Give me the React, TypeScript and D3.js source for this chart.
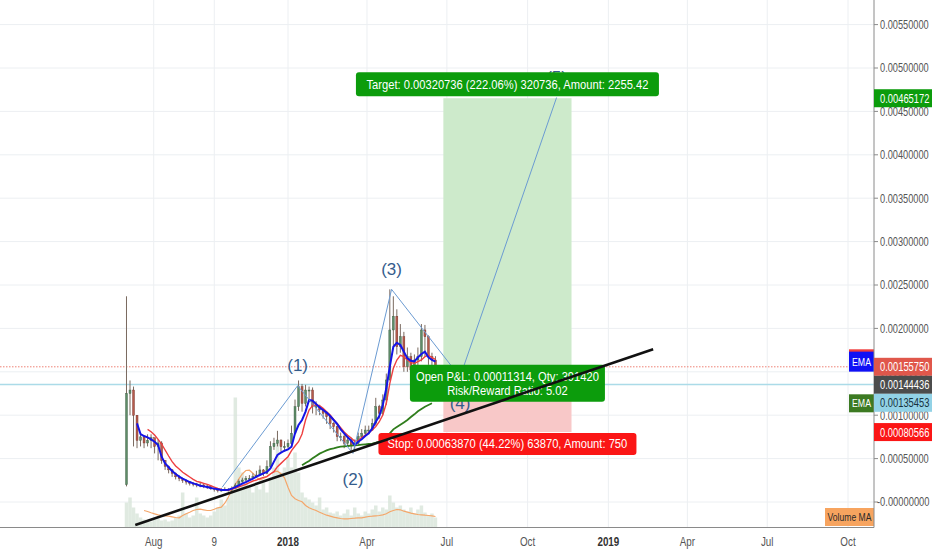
import React from "react";
import * as d3 from "d3";

const W = 932;
const H = 550;
const PLOT_RIGHT = 874;
const PLOT_BOTTOM = 527.5;

// candles: one bar every 4 days from 2017-07-01, prices in units of 1e-5
const BAR_START = "2017-07-01";
const BAR_STEP_DAYS = 4;
const UNIT = 1e-5;
const FIRST_OPEN = 20;

const CLOSE = [
  125, 129, 100, 71, 75, 68, 71, 74, 64, 68,
  48, 41, 37, 33, 29, 27, 25, 23, 21.5, 20.7,
  19.6, 19.6, 18.4, 17.6, 15.7, 14.6, 13.1, 13.8, 14.6, 13.8,
  15.7, 19.6, 23.4, 25.3, 27.3, 27.3, 29.2, 31.1, 36.9, 33,
  40.7, 63.7, 67.6, 71.4, 63.7, 63.7, 67.6, 79.1, 109.8, 132.8,
  113.7, 129, 129, 109.8, 109.8, 106, 102.2, 98.3, 90.6, 86.8,
  75.3, 75.3, 67.6, 71.4, 65.6, 67.6, 75.3, 79.1, 82.9, 82.9,
  90.6, 109.8, 102.2, 117.5, 140.6, 198.2, 214, 178.9, 190.4, 155.9,
  167.4, 152.1, 163.6, 167.4, 198.2, 190.4, 167.4, 163.6, 150,
];
const HIGH = [
  237, 140, 133, 100, 80, 76, 78, 78, 74, 72,
  70, 48, 42, 38, 34, 31, 28, 26, 24, 23,
  22, 22, 21, 20, 19, 17, 15, 16, 17, 16,
  18, 22, 26, 28, 30, 31, 33, 36, 42, 38,
  48, 70, 74, 82, 72, 70, 72, 88, 118, 140,
  136, 135, 133, 132, 116, 112, 108, 104, 100, 92,
  88, 80, 78, 76, 74, 72, 80, 84, 88, 88,
  96, 120, 112, 124, 148, 245, 237, 222, 205, 196,
  178, 172, 170, 178, 205, 204, 192, 172, 168,
];
const LOW = [
  18, 100, 64, 62, 64, 62, 64, 62, 56, 48,
  44, 37, 33, 29, 26, 24, 22, 20, 19, 18,
  17, 17, 16, 15, 14, 12, 11, 12, 13, 12,
  13, 15, 19, 22, 24, 25, 26, 28, 31, 30,
  32, 40, 60, 64, 58, 58, 62, 66, 78, 105,
  104, 110, 115, 102, 100, 100, 96, 90, 84, 80,
  70, 70, 62, 64, 60, 58, 66, 74, 76, 78,
  82, 88, 96, 100, 112, 140, 180, 170, 172, 150,
  150, 145, 150, 155, 162, 168, 158, 150, 144,
];
const VOLUME = [
  25, 30, 20, 14, 10, 8, 7, 6, 8, 9,
  7, 8, 6, 7, 10, 12, 35, 14, 10, 12,
  30, 14, 12, 10, 12, 16, 20, 28, 22, 30,
  40, 130, 60, 55, 45, 40, 35, 42, 38, 45,
  35, 50, 60, 85, 55, 60, 70, 60, 75, 55,
  35, 30, 28, 25, 22, 30, 18, 20, 15, 14,
  16, 12, 14, 18, 12, 20, 14, 12, 16, 14,
  18, 22, 16, 20, 18, 32, 25, 20, 22, 18,
  16, 20, 14, 18, 22, 15, 12, 14, 10,
];

// indicators on the same bar grid, starting at the given bar index
const BLUE_EMA_START = 3;
const BLUE_EMA = [
  90.6, 78.3, 76, 74.5, 72.2, 69.5, 65.6,
  52.2, 44.5, 40, 35.7, 32.3, 29.2, 26.9, 25, 23, 21.5,
  20.3, 18.8, 18, 17.2, 16.1, 15.4, 14.6, 13.8, 13.8, 14.2,
  15.4, 17.2, 19.2, 21.1, 23, 25, 26.9, 29.2, 31.1, 33,
  34.6, 38.8, 46.5, 54.1, 56.8, 59.1, 60.7, 63.7, 79.1, 88.7,
  94.5, 104.1, 117.5, 116.7, 112.9, 109, 106, 103, 99.1, 94.5,
  89.9, 83.7, 79.1, 74.5, 70.6, 65.6, 69.5, 72.2, 76, 79.1,
  84.8, 92.5, 99.1, 111.8, 131, 156, 178.9, 183.5, 180.9, 173.2,
  165.5, 162.8, 162, 166.6, 170.5, 173.2, 166.6, 163.6, 161.7,
];
const RED_EMA_START = 6;
const RED_EMA = [
  83.7, 81, 77.2, 72.2,
  66.8, 59.9, 53, 46.5, 41.5, 38, 34.2, 31.5, 28.8, 26.1,
  23.8, 22.7, 21.5, 20.3, 18.8, 17.2, 15.7, 14.6, 13.4, 13.4,
  14.6, 16.1, 17.6, 18.8, 20.3, 22.3, 24.2, 25.3, 26.9, 28.4,
  29.2, 32.3, 34.9, 40.7, 44.5, 48.4, 52.2, 59.1, 64.5, 69.5,
  78.3, 94.5, 106, 111, 111.8, 111, 107.9, 104.1, 100.2, 95.2,
  90.6, 85.6, 80.6, 76.8, 73.7, 69.9, 70.6, 74.5, 76.8, 79.9,
  82.9, 86.8, 92.5, 100.2, 113.7, 136.7, 154, 163.6, 169, 167.4,
  163.6, 160.5, 159.8, 161.7, 163.6, 167.4, 169, 166.3, 164.4,
];
const GREEN_EMA_START = 50;
const GREEN_EMA = [
  42.3, 45, 47.3, 50.3, 53, 55.7, 57.6, 59.5, 61, 61.8,
  63, 63.7, 64.1, 64.5, 64.9, 65.3, 65.6, 66, 66.4, 66.8,
  67.2, 68.3, 69.5, 71.4, 74.5, 79.1, 83.7, 86.4, 89, 91.7,
  94.5, 97.9, 101, 104.5, 107.1, 109.8, 111.8, 113.7,
];
const VOL_MA_START = 5;
const VOL_MA = [
  17, 16, 14.7, 13.7, 12.7,
  12, 11.7, 11.3, 10.7, 10, 9.7, 12, 13.7, 15.3, 17,
  18, 18.3, 17.7, 17, 17, 18.3, 19.7, 20.3, 24.3, 30.3,
  37.7, 43, 48.7, 53.7, 57, 57.3, 54.3, 50.3, 47.7, 49,
  51, 53.7, 55.7, 56.3, 53.7, 49.7, 40.3, 32, 28.7, 27,
  25.7, 22, 19.7, 18.3, 17, 15.3, 13.7, 12.3, 11.3, 10.3,
  9.7, 9, 8.7, 8.7, 9, 9.3, 9.7, 9.7, 10.3, 11,
  11.3, 11.7, 12, 12.7, 13.7, 15.7, 17, 18, 17.7, 16.3,
  15.3, 14.3, 13.7, 13, 12.7, 12.3, 12, 11.7, 11,
];

// axes
const Y_TICKS = [0, 0.0005, 0.001, 0.0015, 0.002, 0.0025, 0.003, 0.0035, 0.004, 0.0045, 0.005, 0.0055];
const Y_TICK_LABELS = [
  "-0.00000000", "0.00050000", "0.00100000", "0.00150000", "0.00200000", "0.00250000",
  "0.00300000", "0.00350000", "0.00400000", "0.00450000", "0.00500000", "0.00550000",
];
const X_TICK_DATES = [
  "2017-08-01", "2017-10-09", "2018-01-01", "2018-04-01", "2018-07-01",
  "2018-10-01", "2019-01-01", "2019-04-01", "2019-07-01", "2019-10-01",
];
const X_TICK_LABELS = ["Aug", "9", "2018", "Apr", "Jul", "Oct", "2019", "Apr", "Jul", "Oct"];
const X_TICK_BOLD = [false, false, true, false, false, false, true, false, false, false];

// drawings
const WAVE_DATES = ["2017-10-18", "2018-01-12", "2018-03-16", "2018-04-29", "2018-07-16", "2018-11-03"];
const WAVE_VALUES = [0.00017, 0.00134, 0.00056, 0.00245, 0.00144, 0.00466];
const WAVE_LABELS = ["", "(1)", "(2)", "(3)", "(4)", "(5)"];
const WAVE_LABEL_ABOVE = [true, true, false, true, false, true];

const TREND_DATES = ["2017-07-11", "2019-02-21"];
const TREND_VALUES = [-0.000265, 0.00176];

const POS_DATES = ["2018-06-27", "2018-11-20"];
const ENTRY = 0.00144436;
const TARGET = 0.00465172;
const STOP = 0.00080566;
const TARGET_TEXT = "Target: 0.00320736 (222.06%) 320736, Amount: 2255.42";
const PNL_TEXT = ["Open P&L: 0.00011314, Qty: 391420", "Risk/Reward Ratio: 5.02"];
const STOP_TEXT = "Stop: 0.00063870 (44.22%) 63870, Amount: 750";

const RED_LEVEL = 0.0015575;
const BLUE_LEVEL = 0.00135453;

const PRICE_LABELS = ["0.00465172", "0.00155750", "0.00144436", "0.00135453", "0.00080566"];
const PRICE_LABEL_VALUES = [0.00465172, 0.0015575, 0.00144436, 0.00135453, 0.00080566];
const PRICE_LABEL_BG = ["#0c9c0c", "#e0574b", "#4c4c4c", "#92d2e6", "#fb1616"];
const PRICE_LABEL_FG = ["#ffffff", "#ffffff", "#ffffff", "#17323d", "#ffffff"];

const FONT = "'Liberation Sans', Arial, sans-serif";

const day = (s: string) => new Date(s + "T00:00:00Z");

// text squeezed horizontally around its anchor, like the narrow chart font
const Narrow = ({ x, y, sx, anchor = "start", size = 12, fill = "#555", weight = "normal", children }: any) => (
  <text
    x={0}
    y={0}
    transform={`translate(${x},${y}) scale(${sx},1)`}
    textAnchor={anchor}
    dominantBaseline="central"
    fontSize={size}
    fontWeight={weight}
    fill={fill}
  >
    {children}
  </text>
);

export default function App() {
  const x = d3
    .scaleUtc()
    .domain([day("2018-01-01"), day("2019-10-01")])
    .range([288, 848]);
  const y = d3.scaleLinear().domain([0, 0.0055]).range([502, 24.6]);
  const yVol = d3.scaleLinear().domain([0, 150]).range([PLOT_BOTTOM, PLOT_BOTTOM - 150]);

  const barX = (i: number) => x(d3.utcDay.offset(day(BAR_START), i * BAR_STEP_DAYS));
  const step = barX(1) - barX(0);

  const series = (vals: number[], start: number, ys: (v: number) => number) =>
    d3
      .line<number>()
      .x((_, k) => barX(k + start))
      .y((v) => ys(v))(vals) || "";

  const priceY = (v: number) => y(v * UNIT);
  const volY = (v: number) => yVol(v);

  const waveLine =
    d3
      .line<number>()
      .x((_, k) => x(day(WAVE_DATES[k])))
      .y((v) => y(v))(WAVE_VALUES) || "";

  const trend = TREND_DATES.map((d, k) => [x(day(d)), y(TREND_VALUES[k])]);

  const px0 = x(day(POS_DATES[0]));
  const px1 = x(day(POS_DATES[1]));
  const pcx = (px0 + px1) / 2;

  // stack the axis price labels so they do not overlap
  const LH = 18;
  const order = d3.range(PRICE_LABELS.length).sort((a, b) => y(PRICE_LABEL_VALUES[a]) - y(PRICE_LABEL_VALUES[b]));
  const labelTop: number[] = [];
  let lastBottom = -Infinity;
  order.forEach((k) => {
    let top = y(PRICE_LABEL_VALUES[k]) - LH / 2;
    if (top < lastBottom) top = lastBottom;
    labelTop[k] = top;
    lastBottom = top + LH;
  });

  const blueLast = BLUE_EMA[BLUE_EMA.length - 1] * UNIT;
  const redLast = RED_EMA[RED_EMA.length - 1] * UNIT;
  const greenLast = GREEN_EMA[GREEN_EMA.length - 1] * UNIT;

  return (
    <svg
      width={W}
      height={H}
      style={{ position: "absolute", left: 0, top: 0, background: "#ffffff", fontFamily: FONT }}
    >
      <defs>
        <clipPath id="plot">
          <rect x={0} y={0} width={PLOT_RIGHT} height={PLOT_BOTTOM} />
        </clipPath>
      </defs>

      {/* grid */}
      {Y_TICKS.map((t, k) => (
        <line key={"gy" + k} x1={0} x2={PLOT_RIGHT} y1={y(t)} y2={y(t)} stroke="#eceff2" strokeWidth={1} />
      ))}
      {X_TICK_DATES.map((d, k) => (
        <line key={"gx" + k} x1={x(day(d))} x2={x(day(d))} y1={0} y2={PLOT_BOTTOM} stroke="#eceff2" strokeWidth={1} />
      ))}

      <g clipPath="url(#plot)">
        {/* volume */}
        {VOLUME.map((v, i) => (
          <rect
            key={"v" + i}
            x={barX(i) - step / 2}
            y={yVol(v)}
            width={step}
            height={PLOT_BOTTOM - yVol(v)}
            fill="#d6e3d7"
            opacity={0.75}
          />
        ))}
        <path d={series(VOL_MA, VOL_MA_START, volY)} fill="none" stroke="#f4a66a" strokeWidth={1.2} />

        {/* price levels */}
        <line x1={0} x2={PLOT_RIGHT} y1={y(RED_LEVEL)} y2={y(RED_LEVEL)} stroke="#ee8275" strokeWidth={1} strokeDasharray="1.5 1.5" />
        <line x1={0} x2={PLOT_RIGHT} y1={y(BLUE_LEVEL)} y2={y(BLUE_LEVEL)} stroke="#abdbe8" strokeWidth={1.5} />

        {/* long position */}
        <rect x={px0} y={y(TARGET)} width={px1 - px0} height={y(ENTRY) - y(TARGET)} fill="#cdeacb" />
        <rect x={px0} y={y(ENTRY)} width={px1 - px0} height={y(STOP) - y(ENTRY)} fill="#f8c8c8" />

        {/* candles */}
        {CLOSE.map((c, i) => {
          const o = i === 0 ? FIRST_OPEN : CLOSE[i - 1];
          const up = c >= o;
          const cx = barX(i);
          const top = priceY(Math.max(o, c));
          const bot = priceY(Math.min(o, c));
          return (
            <g key={"c" + i}>
              <line x1={cx} x2={cx} y1={priceY(HIGH[i])} y2={priceY(LOW[i])} stroke="#7a6a60" strokeWidth={1} />
              <rect
                x={cx - 1}
                y={top}
                width={2}
                height={Math.max(1, bot - top)}
                fill={up ? "#5e8c68" : "#b65a4b"}
                stroke={up ? "#3a5a40" : "#6e3128"}
                strokeWidth={0.4}
              />
            </g>
          );
        })}

        {/* moving averages */}
        <path d={series(GREEN_EMA, GREEN_EMA_START, priceY)} fill="none" stroke="#2f7d1c" strokeWidth={1.8} />
        <path d={series(RED_EMA, RED_EMA_START, priceY)} fill="none" stroke="#ee4040" strokeWidth={1.4} />
        <path d={series(BLUE_EMA, BLUE_EMA_START, priceY)} fill="none" stroke="#1414e6" strokeWidth={2} />

        {/* elliott wave */}
        <path d={waveLine} fill="none" stroke="#6b9bd2" strokeWidth={1} />
        {WAVE_LABELS.map((t, k) =>
          t ? (
            <text
              key={"w" + k}
              x={x(day(WAVE_DATES[k]))}
              y={y(WAVE_VALUES[k]) + (WAVE_LABEL_ABOVE[k] ? -20 : 26)}
              textAnchor="middle"
              dominantBaseline="central"
              fontSize={17}
              fill="#355c8c"
            >
              {t}
            </text>
          ) : null
        )}

        {/* position labels */}
        <rect x={pcx - 151.5} y={y(TARGET) - 26} width={303} height={24} rx={3} fill="#0c9c0c" />
        <Narrow x={pcx} y={y(TARGET) - 14} sx={0.86} anchor="middle" size={13} fill="#ffffff">
          {TARGET_TEXT}
        </Narrow>

        <rect x={pcx - 97.5} y={y(ENTRY) - 12} width={195} height={37} rx={3} fill="#0c9c0c" />
        <Narrow x={pcx} y={y(ENTRY) + 0.5} sx={0.86} anchor="middle" size={13} fill="#ffffff">
          {PNL_TEXT[0]}
        </Narrow>
        <Narrow x={pcx} y={y(ENTRY) + 14.5} sx={0.86} anchor="middle" size={13} fill="#ffffff">
          {PNL_TEXT[1]}
        </Narrow>

        <rect x={pcx - 129} y={y(STOP) + 1} width={258} height={22} rx={3} fill="#fb1616" />
        <Narrow x={pcx} y={y(STOP) + 12} sx={0.86} anchor="middle" size={13} fill="#ffffff">
          {STOP_TEXT}
        </Narrow>

        {/* trend line */}
        <line x1={trend[0][0]} y1={trend[0][1]} x2={trend[1][0]} y2={trend[1][1]} stroke="#111111" strokeWidth={2.6} />
      </g>

      {/* indicator tags */}
      <rect x={849} y={y(redLast) - 10} width={25} height={20} fill="#f03c3c" />
      <rect x={849} y={y(blueLast) - 10} width={25} height={20} fill="#1010f5" />
      <Narrow x={861.5} y={y(blueLast)} sx={0.8} anchor="middle" size={11} fill="#ffffff">
        EMA
      </Narrow>
      <rect x={849} y={y(greenLast) - 9} width={25} height={18} fill="#3c7a22" />
      <Narrow x={861.5} y={y(greenLast)} sx={0.8} anchor="middle" size={11} fill="#ffffff">
        EMA
      </Narrow>
      <rect x={825} y={508} width={49} height={18} fill="#f7a45f" />
      <Narrow x={849.5} y={517} sx={0.78} anchor="middle" size={11} fill="#2a2a2a">
        Volume MA
      </Narrow>

      {/* axes */}
      <line x1={PLOT_RIGHT} x2={PLOT_RIGHT} y1={0} y2={PLOT_BOTTOM} stroke="#8a8a8a" strokeWidth={1} />
      <line x1={0} x2={PLOT_RIGHT} y1={PLOT_BOTTOM} y2={PLOT_BOTTOM} stroke="#8a8a8a" strokeWidth={1} />
      {Y_TICKS.map((t, k) => (
        <g key={"yt" + k}>
          <line x1={PLOT_RIGHT} x2={PLOT_RIGHT + 4} y1={y(t)} y2={y(t)} stroke="#8a8a8a" />
          <Narrow x={k === 0 ? 877 : 880} y={y(t)} sx={k === 0 ? 0.78 : 0.77} size={12} fill="#555555">
            {Y_TICK_LABELS[k]}
          </Narrow>
        </g>
      ))}
      {X_TICK_DATES.map((d, k) => (
        <Narrow
          key={"xt" + k}
          x={x(day(d))}
          y={542}
          sx={0.82}
          anchor="middle"
          size={12}
          weight={X_TICK_BOLD[k] ? "bold" : "normal"}
          fill={X_TICK_BOLD[k] ? "#333333" : "#555555"}
        >
          {X_TICK_LABELS[k]}
        </Narrow>
      ))}

      {/* price tags on the axis */}
      {PRICE_LABELS.map((t, k) => (
        <g key={"pl" + k}>
          <rect x={PLOT_RIGHT} y={labelTop[k]} width={W - PLOT_RIGHT} height={LH} fill={PRICE_LABEL_BG[k]} />
          <Narrow x={880} y={labelTop[k] + LH / 2} sx={0.78} size={12} fill={PRICE_LABEL_FG[k]}>
            {t}
          </Narrow>
        </g>
      ))}
    </svg>
  );
}
